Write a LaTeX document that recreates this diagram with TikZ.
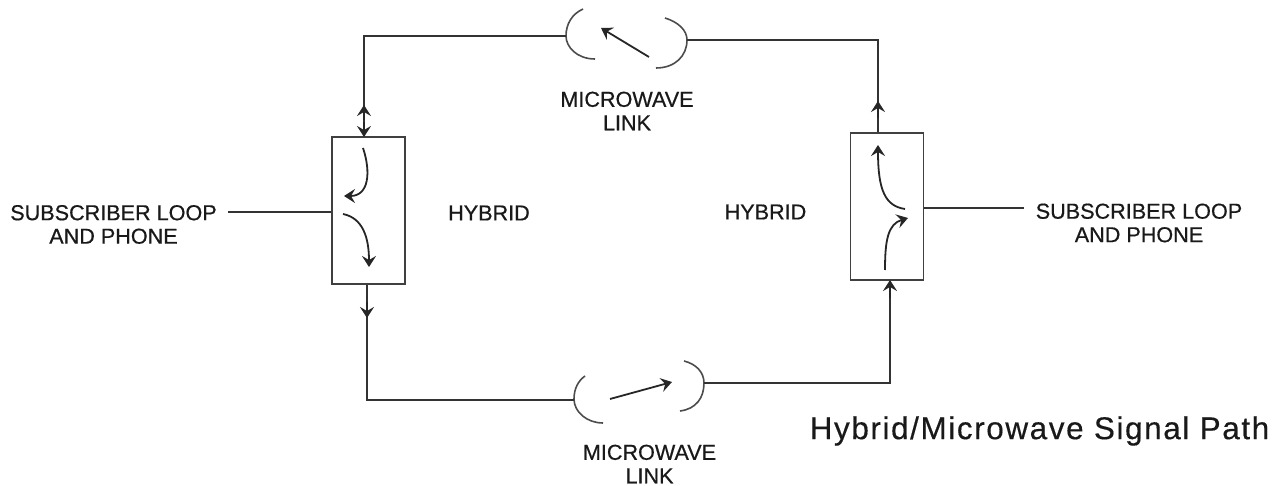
\documentclass[tikz,border=0pt]{standalone}
\usepackage{fontspec}
\setmainfont{Liberation Sans}
\usetikzlibrary{arrows.meta}
\tikzset{
 px/.style={x=1pt,y=-1pt},
 wire/.style={line width=1.5pt,draw=black!80},
 hybox/.style={draw=black!75,line width=1.5pt,minimum width=#1,inner sep=0pt},
 lab/.style={font=\fontsize{21.6}{23.5}\selectfont\addfontfeature{FakeBold=0.6},align=center,text=black!90,inner sep=0pt},
 arc/.style={line width=1.6pt,draw=black!70},
 tip/.style={-{Stealth[length=11pt,width=14pt,inset=4pt]}},
 flow/.style={line width=1.8pt,draw=black!85,tip},
}
\begin{document}
\begin{tikzpicture}[px]
\useasboundingbox (0,0) rectangle (1286,486);
% hybrids
\node[hybox=73pt,minimum height=147pt] (hl) at (368.5,210.5) {};
\node[hybox=73pt,minimum height=147pt] (hr) at (887,206.5) {};
% microwave link reference points
\coordinate (tl) at (566,36);
\coordinate (tr) at (687,40);
\coordinate (bl) at (574,399);
\coordinate (br) at (704,383);
% microwave dishes
\draw[arc] (583,9) .. controls (572,14) and (566,24) .. (tl) .. controls (566,47) and (577,59) .. (595,59);
\draw[arc] (665,18) .. controls (678,22) and (687,30) .. (tr) .. controls (687,56) and (675,68) .. (656,68);
\draw[arc] (585,376) .. controls (578,381) and (574,389) .. (bl) .. controls (574,412) and (587,423) .. (603,423);
\draw[arc] (684,361) .. controls (696,364) and (704,372) .. (br) .. controls (704,398) and (696,409) .. (680,411);
% link arrows
\coordinate (ta) at (649,57); \coordinate (tb) at (601,28);
\coordinate (ba) at (610,399); \coordinate (bb) at (672,382);
\draw[flow] (ta) -- (tb);
\draw[flow] (ba) -- (bb);
% loop
\coordinate (c1) at (364,38);
\coordinate (c2) at (878,40);
\coordinate (c3) at (367,400);
\coordinate (c4) at (890,383);
\draw[wire] (tl) -- (tl -| c1) -- (c1 |- hl.north);
\draw[wire] (tr) -- (c2) -- (c2 |- hr.north);
\draw[wire] (c3 |- hl.south) -- (c3) -- (c3 -| bl);
\draw[wire] (br) -- (c4) -- (c4 |- hr.south);
% wire arrowheads
\coordinate (m1) at (364,120); \coordinate (m1a) at (364,105);
\coordinate (m2a) at (364,122); \coordinate (m2) at (364,137);
\draw[flow] (m1) -- (m1a);
\draw[flow] (m2a) -- (m2);
\coordinate (m3) at (367,302); \coordinate (m3b) at (367,318);
\draw[flow] (m3) -- (m3b);
\coordinate (m4) at (878,118); \coordinate (m4b) at (878,101);
\draw[flow] (m4) -- (m4b);
\coordinate (m5) at (890,298); \coordinate (m5b) at (890,280);
\draw[flow] (m5) -- (m5b);
% internal arrows
\draw[flow] (363,148) .. controls (371,172) and (369,196) .. (344,196);
\draw[flow] (343,214) .. controls (363,218) and (369,238) .. (369,267);
\draw[flow] (905,209) .. controls (885,206) and (878,190) .. (878,145);
\draw[flow] (885,270) .. controls (885,240) and (888,224) .. (908,218);
% side texts
\node[lab] (sl) at (113.5,224.5) {SUBSCRIBER LOOP\\AND PHONE};
\node[lab] (sr) at (1139,223) {SUBSCRIBER LOOP\\AND PHONE};
\coordinate (sla) at (228,212);
\coordinate (sra) at (1024,208);
\draw[wire] (sla) -- (sla -| hl.west);
\draw[wire] (sra) -- (sra -| hr.east);
\node[lab] (h1) at (489,213) {HYBRID};
\node[lab] (h2) at (765.5,212) {HYBRID};
\node[lab] (ml1) at (627,111) {MICROWAVE\\LINK};
\node[lab] (ml2) at (649.5,464) {MICROWAVE\\LINK};
\node[font=\fontsize{31.5}{34}\selectfont\addfontfeature{LetterSpace=5,FakeBold=0.4},inner sep=0pt,text=black!90] (title) at (1039.5,431) {Hybrid/Microwave Signal Path};
\end{tikzpicture}
\end{document}
